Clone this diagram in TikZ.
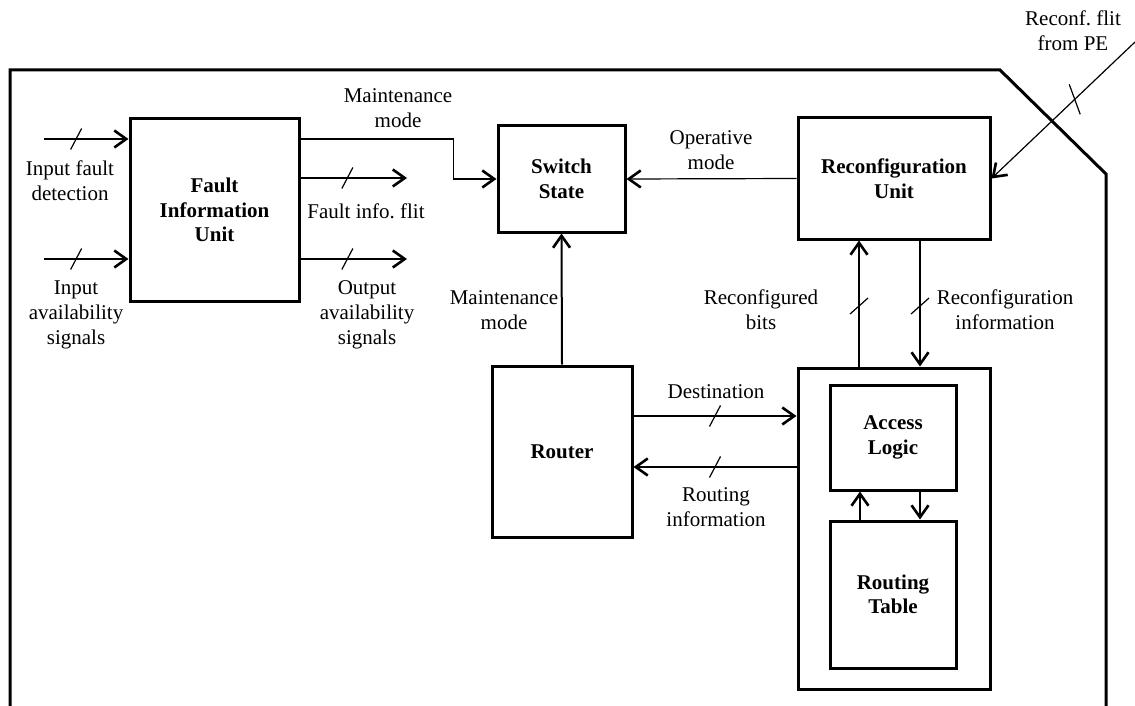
\documentclass[tikz,border=0pt]{standalone}
\usepackage{fontspec}
\setmainfont{Liberation Serif}
\usetikzlibrary{arrows.meta}

\tikzset{
  unit/.style={draw, line width=1.5pt, align=center, inner sep=0pt,
    font=\fontsize{10.5}{12.3}\selectfont\bfseries},
  lbl/.style={align=center, inner sep=0pt, font=\fontsize{10.5}{12.5}\selectfont},
  sig/.style={line width=0.6pt, ->},
  sigbold/.style={line width=1pt, ->},
  tick/.style={line width=0.6pt},
  >={Straight Barb[length=6pt,width=8.5pt,line width=1.3pt]}
}

\begin{document}
\begin{tikzpicture}[x=0.5pt, y=-0.5pt]
    \useasboundingbox (0,0) rectangle (1135,706);

    % Outer frame
    \draw[line width=1.5pt] (10,706) -- (10,70) -- (1000,70) -- (1106,174) -- (1106,706);

    % Units
    \node[unit, minimum width=84.5pt, minimum height=91pt] (fiu) at (214.5,210) {Fault\\Information\\Unit};
    \node[unit, minimum width=63.5pt, minimum height=53pt] (sw) at (561.5,179) {Switch\\State};
    \node[unit, minimum width=96pt, minimum height=60.5pt] (ru) at (894,178.5) {Reconfiguration\\Unit};
    \node[unit, minimum width=70pt, minimum height=85.5pt] (rtr) at (562,451.5) {Router};
    \node[unit, minimum width=96pt, minimum height=160.5pt] (rtb) at (894,528.5) {};
    \node[unit, minimum width=63pt, minimum height=52.5pt] (acc) at (893,437.5) {Access\\Logic};
    \node[unit, minimum width=63pt, minimum height=73.5pt] (tab) at (893,594.5) {Routing\\Table};

    % Free ends
    \coordinate (in1) at (44,139);
    \coordinate (in2) at (44,259);
    \coordinate (out1) at (407,178);
    \coordinate (out2) at (407,259);
    \coordinate (pe) at (1135,42);

    % Fault information unit signals
    \draw[sig] (in1) -- coordinate[pos=.38] (s1) ([yshift=35.5pt]fiu.west);
    \draw[sig] (in2) -- coordinate[pos=.38] (s2) ([yshift=-24.5pt]fiu.west);
    \draw[sig] ([yshift=16pt]fiu.east) -- coordinate[pos=.44] (s3) (out1);
    \draw[sig] ([yshift=-24.5pt]fiu.east) -- coordinate[pos=.44] (s4) (out2);
    \draw[sig] ([yshift=35.5pt]fiu.east) -- ++(153,0) |- (sw.west);

    % Switch state inputs
    \draw[sig] (ru.west) -- (sw.east);
    \draw[sigbold] (rtr.north) -- (sw.south);

    % Router and routing block
    \draw[sig] ([yshift=17.75pt]rtr.east) -- coordinate[pos=.5] (s5) ([yshift=17.75pt]rtr.east -| rtb.west);
    \draw[sig] ([yshift=-7.75pt]rtr.east -| rtb.west) -- coordinate[pos=.5] (s6) ([yshift=-7.75pt]rtr.east);

    % Reconfiguration unit and routing block
    \draw[sig] ([xshift=-17.5pt]rtb.north) -- coordinate[pos=.48] (s7) ([xshift=-17.5pt]ru.south);
    \draw[sigbold] ([xshift=13pt]ru.south) -- coordinate[pos=.52] (s8) ([xshift=13pt]rtb.north);
    \draw[sig] (pe) -- coordinate[pos=.42] (s9) (ru.east);

    % Access logic and routing table
    \draw[sig] ([xshift=-16.5pt]tab.north) -- ([xshift=-16.5pt]acc.south);
    \draw[sig] ([xshift=13.5pt]acc.south) -- ([xshift=13.5pt]tab.north);

    % Bus marks
    \foreach \s in {s1,s2,s3,s4,s5,s6}
        \draw[tick] (\s) +(-5.5,10.5) -- +(5.5,-10.5);
    \foreach \s in {s7,s8}
        \draw[tick] (\s) +(-9,8) -- +(9,-8);
    \draw[tick] (s9) +(-5.5,-15) -- +(5.5,15);

    % Labels
    \node[lbl] (lfd) at (70,181) {Input fault\\detection};
    \node[lbl] (lia) at (76,315) {Input\\availability\\signals};
    \node[lbl] (lmm) at (398,108) {Maintenance\\mode};
    \node[lbl] (lff) at (366,211) {Fault info.\ flit};
    \node[lbl] (loa) at (367,315) {Output\\availability\\signals};
    \node[lbl] (lom) at (711,150) {Operative\\mode};
    \node[lbl] (lrm) at (504,310) {Maintenance\\mode};
    \node[lbl] (lrb) at (761,310) {Reconfigured\\bits};
    \node[lbl] (lri) at (1005,310) {Reconfiguration\\information};
    \node[lbl] (lpe) at (1073,31) {Reconf.\ flit\\from PE};
    \node[lbl] (lds) at (716,392) {Destination};
    \node[lbl] (lrt) at (716,507) {Routing\\information};
\end{tikzpicture}
\end{document}
